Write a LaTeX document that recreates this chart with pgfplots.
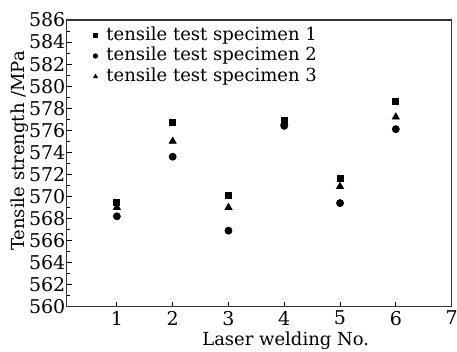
\documentclass[border=0pt]{standalone}
\usepackage{fontspec}
\setmainfont{DejaVu Serif}
\usepackage{pgfplots}
\pgfplotsset{compat=1.18}
\pgfplotsset{smalllegend/.style={legend image code/.code={\draw[##1, mark size=1.1pt] plot coordinates {(0pt,0pt)};}}}
\begin{document}
\begin{tikzpicture}[font=\fontsize{9}{10.5}\selectfont]
\begin{axis}[
  scale only axis,
  width=192.5pt, height=143.4pt,
  xmin=0.1, xmax=7, ymin=560, ymax=586,
  xtick={1,2,3,4,5,6,7}, ytick={560,562,...,586},
  minor y tick num=1,
  tick pos=left, tick align=inside,
  major tick length=2.5pt, minor tick length=1.5pt,
  axis line style={line width=0.7pt, black!80},
  every tick/.style={black, line width=0.5pt},
  /pgf/number format/assume math mode=true,
  xticklabel={\textrm{\pgfmathprintnumber[assume math mode=true]{\tick}}},
  yticklabel={\textrm{\pgfmathprintnumber[assume math mode=true]{\tick}}},
  tick label style={font=\fontsize{9.5}{11}\selectfont},
  yticklabel style={xshift=1.5pt, inner sep=2pt},
  xticklabel style={inner sep=2pt},
  xlabel={Laser welding No.},
  ylabel={Tensile strength /MPa},
  xlabel style={at={(axis description cs:0.569,0)}, anchor=base, yshift=-19.2pt},
  ylabel style={at={(axis description cs:-0.122,0.543)}, anchor=center},
  legend style={draw=none, fill=none, at={(axis description cs:0,1)}, anchor=north west,
    xshift=13.1pt, yshift=-2.5pt, inner sep=0pt, row sep=0.3pt, column sep=4.4pt,
    nodes={inner sep=0pt, text height=7.5pt, text depth=2.5pt}},
  legend cell align=left,
]
\addlegendimage{only marks, mark=square*, black, smalllegend}
\addlegendentry{tensile test specimen 1}
\addlegendimage{only marks, mark=*, black, smalllegend}
\addlegendentry{tensile test specimen 2}
\addlegendimage{only marks, mark=triangle*, black, smalllegend}
\addlegendentry{tensile test specimen 3}
% specimen 3 (drawn first so others lie over it)
\addplot[only marks, mark=triangle*, mark size=2pt, black, forget plot] coordinates {
 (1,569.0) (2,575.0) (3,569.0) (4,576.7) (5,570.9) (6,577.2)};
% specimen 1
\addplot[only marks, mark=square*, mark size=1.5pt, black, forget plot] coordinates {
 (1,569.5) (2,576.7) (3,570.1) (4,576.9) (5,571.6) (6,578.6)};
% specimen 2
\addplot[only marks, mark=*, mark size=1.75pt, black, forget plot] coordinates {
 (1,568.2) (2,573.6) (3,566.9) (4,576.4) (5,569.4) (6,576.1)};
\coordinate (bl) at (rel axis cs:0,0);
\coordinate (tr) at (rel axis cs:1,1);
\end{axis}
\pgfresetboundingbox
\path ([xshift=-33.35pt,yshift=-22.15pt]bl) rectangle ([xshift=2.7pt,yshift=10pt]tr);
\end{tikzpicture}
\end{document}
